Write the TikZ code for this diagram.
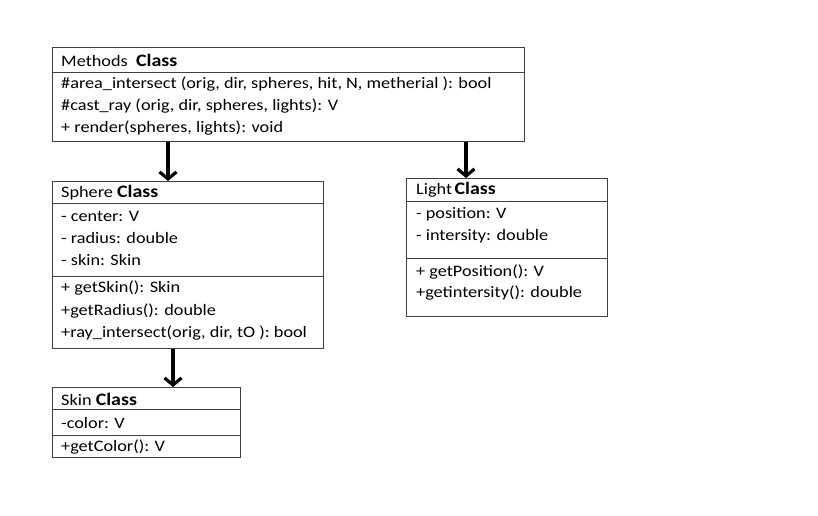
\documentclass[tikz,border=0pt]{standalone}
\usepackage{fontspec}
\setmainfont{Carlito}[FakeStretch=1.14]
\usetikzlibrary{arrows.meta}
\newcommand{\clsword}{{\fontsize{17.5}{18}\selectfont\bfseries Class}}
\begin{document}
\begin{tikzpicture}[x=1pt,y=-1pt,
  box/.style={draw=black!75,line width=0.9pt,rectangle,inner sep=0pt,anchor=north west},
  divider/.style={draw=black!75,line width=0.9pt},
  txt/.style={anchor=west,inner sep=0pt,font=\fontsize{16}{18}\selectfont},
  arr/.style={line width=3.6pt,-{Straight Barb[length=7pt,width=17pt,line width=3.2pt]}},
]
\useasboundingbox (0,0) rectangle (818,515);
\fill[white] (0,0) rectangle (818,515);
% Methods
\node[box,minimum width=472pt,minimum height=94pt] (methods) at (52,47) {};
\draw[divider] (52,72) -- (524,72);
\node[txt] (mh) at (61,60) {Methods\ \ \clsword};
\node[txt] (m1) at (61,84) {\#area\_intersect (orig, dir, spheres, hit, N, metherial ): bool};
\node[txt] (m2) at (61,106) {\#cast\_ray (orig, dir, spheres, lights): V};
\node[txt] (m3) at (61,128) {+ render(spheres, lights): void};
% Sphere
\node[box,minimum width=271pt,minimum height=167pt] (sphere) at (52,181) {};
\draw[divider] (52,203) -- (323,203);
\draw[divider] (52,276) -- (323,276);
\node[txt] (sh) at (61,193) {Sphere\ \clsword};
\node[txt] (s1) at (61,216) {- center: V};
\node[txt] (s2) at (61,238) {- radius: double};
\node[txt] (s3) at (61,260) {- skin: Skin};
\node[txt] (s4) at (61,288) {+ getSkin(): Skin};
\node[txt] (s5) at (61,311) {+getRadius(): double};
\node[txt] (s6) at (61,333) {+ray\_intersect(orig, dir, tO ): bool};
% Skin
\node[box,minimum width=188pt,minimum height=70pt] (skin) at (52,387) {};
\draw[divider] (52,409) -- (240,409);
\draw[divider] (52,435) -- (240,435);
\node[txt] (kh) at (61,399) {Skin \clsword};
\node[txt] (k1) at (61,423) {-color: V};
\node[txt] (k2) at (61,447) {+getColor(): V};
% Light
\node[box,minimum width=201pt,minimum height=138pt] (light) at (406,178) {};
\draw[divider] (406,201) -- (607,201);
\draw[divider] (406,258) -- (607,258);
\node[txt] (lh) at (416,190) {Light\kern2.5pt\clsword};
\node[txt] (l1) at (416,214) {- position: V};
\node[txt] (l2) at (416,236) {- intersity: double};
\node[txt] (l3) at (416,272) {+ getPosition(): V};
\node[txt] (l4) at (416,293) {+getintersity(): double};
% arrows
\draw[arr] (methods.south -| 168,0) -- (sphere.north -| 168,0);
\draw[arr] (methods.south -| 466,0) -- (light.north -| 466,0);
\draw[arr] (sphere.south -| 173,0) -- (skin.north -| 173,0);
\end{tikzpicture}
\end{document}
